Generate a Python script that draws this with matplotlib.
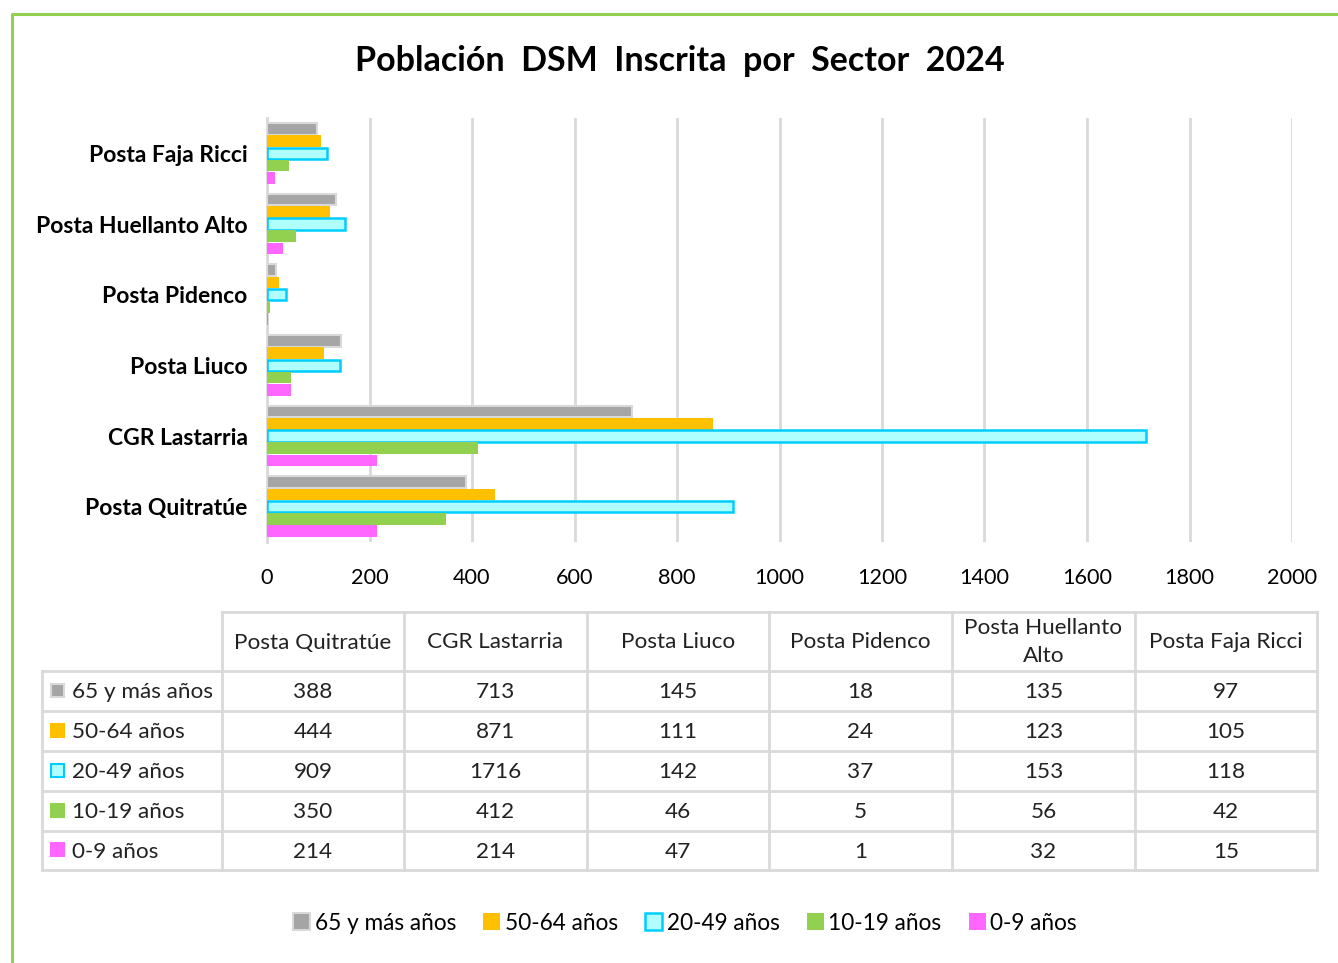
import numpy as np
import matplotlib.pyplot as plt
from matplotlib.patches import Rectangle

# ---------------- data
sectors = ["Posta Quitratúe", "CGR Lastarria", "Posta Liuco",
           "Posta Pidenco", "Posta Huellanto Alto", "Posta Faja Ricci"]
col_labels = ["Posta Quitratúe", "CGR Lastarria", "Posta Liuco",
              "Posta Pidenco", "Posta Huellanto\nAlto", "Posta Faja Ricci"]
groups = ["65 y más años", "50-64 años", "20-49 años", "10-19 años", "0-9 años"]
v65 = [388, 713, 145, 18, 135, 97]
v50 = [444, 871, 111, 24, 123, 105]
v20 = [909, 1716, 142, 37, 153, 118]
v10 = [350, 412, 46, 5, 56, 42]
v0 = [214, 214, 47, 1, 32, 15]
values = [v65, v50, v20, v10, v0]

faces = ["#A5A5A5", "#FFC000", "#AFFFFF", "#92D050", "#FF66FF"]
edges = ["#D9D9D9", "#FFC000", "#00CCFF", "#92D050", "#FF66FF"]
edge_w = [1.5, 0, 1.8, 0, 0]

plt.rcParams['font.family'] = ['Lato', 'DejaVu Sans']

W, H = 1338, 963
fig = plt.figure(figsize=(W / 100, H / 100), dpi=100)

# overlay in pixel coords for border + table
ov = fig.add_axes([0, 0, 1, 1])
ov.set_xlim(0, W)
ov.set_ylim(H, 0)
ov.axis("off")
ov.plot([12, 12, W], [H, 14, 14], color="#92D050", lw=2.2, solid_capstyle="butt")

# ---------------- bar chart
ax = fig.add_axes([267 / W, 1 - 542 / H, 1025 / W, 424 / H])
y = np.arange(len(sectors))
h = 0.165
for k, vals in enumerate(values):
    off = (2 - k) * 0.173
    ax.barh(y + off, vals, height=h, color=faces[k], edgecolor=edges[k],
            linewidth=edge_w[k], label=groups[k], zorder=3)

ax.set_xlim(0, 2000)
ax.set_ylim(-0.5, 5.5)
ax.set_xticks(np.arange(0, 2001, 200))
ax.set_yticks(y)
ax.set_yticklabels(sectors, fontsize=16.5, fontweight="bold")
ax.tick_params(axis="both", length=0)
ax.tick_params(axis="x", labelsize=15.6, pad=19)
ax.tick_params(axis="y", pad=14)
ax.grid(axis="x", color="#D9D9D9", lw=2)
ax.set_axisbelow(True)
for s in ["top", "right", "bottom"]:
    ax.spines[s].set_visible(False)
ax.spines["left"].set_color("#D9D9D9")
ax.spines["left"].set_linewidth(2)

fig.text(680 / W, 1 - 61 / H, "Población  DSM  Inscrita  por  Sector  2024",
         ha="center", va="center", fontsize=24.5, fontweight="bold")

# ---------------- data table
xs = [42, 222, 404, 587, 769, 952, 1135, 1317]
ys = [612, 671, 711, 751, 791, 831, 870]
grid_c = "#D9D9D9"
# header row borders (no corner cell)
ov.plot([xs[1], xs[-1]], [ys[0], ys[0]], color=grid_c, lw=2)
for x in xs[1:]:
    ov.plot([x, x], [ys[0], ys[-1]], color=grid_c, lw=2)
ov.plot([xs[0], xs[0]], [ys[1], ys[-1]], color=grid_c, lw=2)
for yy in ys[1:]:
    ov.plot([xs[0], xs[-1]], [yy, yy], color=grid_c, lw=2)

for j, lab in enumerate(col_labels):
    cx = (xs[j + 1] + xs[j + 2]) / 2
    ov.text(cx, (ys[0] + ys[1]) / 2 + 1, lab, ha="center", va="center",
            fontsize=16.2, color="#222222", linespacing=1.5)

for i, g in enumerate(groups):
    cy = (ys[i + 1] + ys[i + 2]) / 2
    ov.add_patch(Rectangle((51, cy - 7), 13, 13, facecolor=faces[i],
                           edgecolor=edges[i], lw=1.5))
    ov.text(72, cy + 1, g, ha="left", va="center", fontsize=16.2, color="#222222")
    for j in range(len(sectors)):
        cx = (xs[j + 1] + xs[j + 2]) / 2
        ov.text(cx, cy + 1, str(values[i][j]), ha="center", va="center",
                fontsize=16.2, color="#222222")

# ---------------- legend
handles, labels = ax.get_legend_handles_labels()
fig.legend(handles, labels, loc="center", bbox_to_anchor=(685 / W, 1 - 923 / H),
           ncol=5, frameon=False, fontsize=16.3, handlelength=0.75,
           handleheight=0.75, handletextpad=0.2, columnspacing=1.2)

fig.savefig("out.png", dpi=100)
